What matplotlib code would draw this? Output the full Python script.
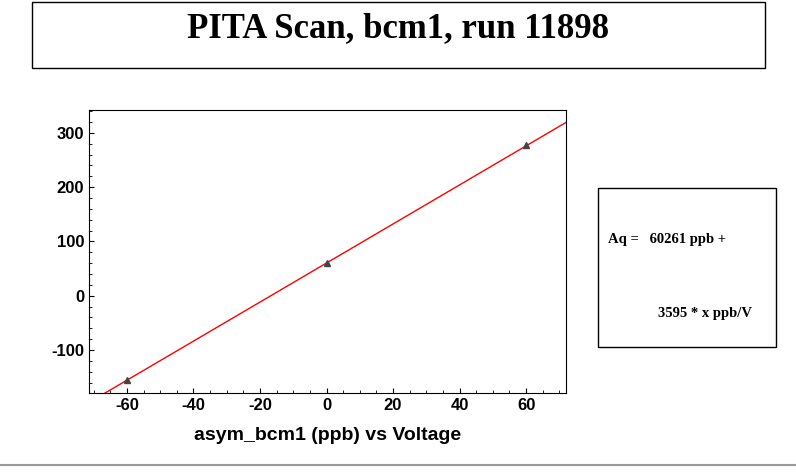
import matplotlib
matplotlib.use("Agg")
import matplotlib.pyplot as plt
from matplotlib.patches import Rectangle
from matplotlib.lines import Line2D
import numpy as np

plt.rcParams["axes.unicode_minus"] = False
plt.rcParams["font.family"] = "Liberation Sans"

voltage = [-60, 0, 60]
asym = [-155, 60, 277]
intercept = 60.261
slope = 3.595
title = "PITA Scan, bcm1, run 11898"
xlabel = "asym_bcm1 (ppb) vs Voltage"
xticks = [-60, -40, -20, 0, 20, 40, 60]
yticks = [-100, 0, 100, 200, 300]

W, H = 796, 472
fig = plt.figure(figsize=(W/100, H/100), dpi=100)
fig.patch.set_facecolor("white")

def fx(px): return px / W
def fy(py): return 1 - py / H

fig.patches.append(Rectangle((fx(32), fy(68)), fx(765)-fx(32), fy(2)-fy(68),
                             transform=fig.transFigure, fill=False, ec="black", lw=1))
fig.text(fx(398), fy(29), title, ha="center", va="center", family="Liberation Serif",
         weight="bold", fontsize=25)

fig.patches.append(Rectangle((fx(598), fy(347)), fx(776)-fx(598), fy(188)-fy(347),
                             transform=fig.transFigure, fill=False, ec="black", lw=1))
fig.text(fx(608), fy(240), "Aq =   60261 ppb +", ha="left", va="center",
         family="Liberation Serif", weight="bold", fontsize=10.5)
fig.text(fx(752), fy(313), "3595 * x ppb/V", ha="right", va="center",
         family="Liberation Serif", weight="bold", fontsize=10.5)

fig.lines.append(Line2D([0, 1], [fy(465), fy(465)], transform=fig.transFigure, color="#999999", lw=1.5))

ax = fig.add_axes([fx(89), fy(393), fx(566)-fx(89), fy(110)-fy(393)])
xmin, xmax = -71.4, 72
ax.set_xlim(xmin, xmax)
ax.set_ylim(-179, 342)
xs = np.array([xmin, xmax])
ax.plot(xs, slope*xs + intercept, color="red", lw=1)
ax.plot(voltage, asym, "^", color="#444444", ms=5)
ax.set_xticks(xticks)
ax.set_yticks(yticks)
ax.minorticks_on()
ax.tick_params(which="both", direction="in", top=False, right=False, labelsize=12)
for lab in ax.get_xticklabels() + ax.get_yticklabels():
    lab.set_fontweight("bold")
ax.set_xlabel(xlabel, fontsize=14, weight="bold", labelpad=10)
fig.savefig("out.png", dpi=100)
